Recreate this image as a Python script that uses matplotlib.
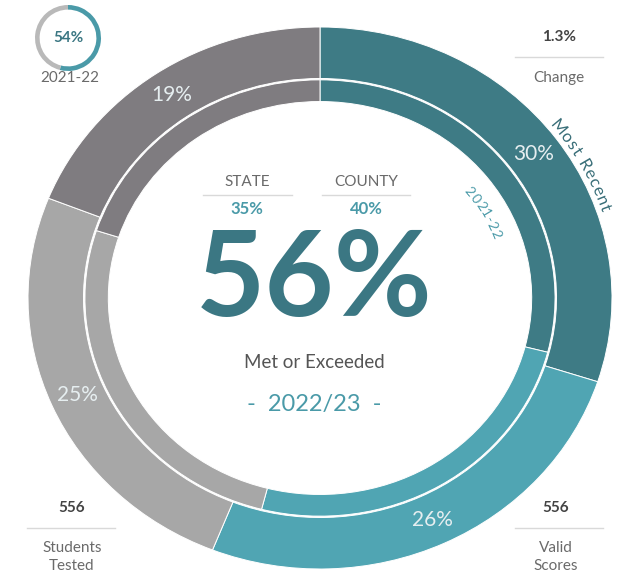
import numpy as np
import matplotlib
matplotlib.use("Agg")
import matplotlib.pyplot as plt
import matplotlib.patheffects as pe
from matplotlib.textpath import TextPath
from matplotlib.font_manager import FontProperties

plt.rcParams['font.family'] = ['Lato', 'DejaVu Sans']

# data
segments = ['Met (dark)', 'Met (light)', 'Not met (light)', 'Not met (dark)']
recent = [30, 26, 25, 19]          # 2022/23 ring
previous = [29, 25, 26, 20]        # 2021-22 ring
colors = ['#3e7b85', '#50a5b3', '#a7a7a7', '#7f7c80']
met_total = 56
prev_total = 54
state_pct, county_pct = 35, 40
change = '1.3%'
students_tested = 556
valid_scores = 556

TEAL = '#3b7783'
LIGHT_TEAL = '#4a9aa8'
DARK_TXT = '#444444'
MID_TXT = '#6a6a6a'
RULE = '#d9d9d9'

W, H = 625, 578
fig = plt.figure(figsize=(W / 100, H / 100), dpi=100)


def frac_box(cx, cy, rx, ry):
    # pixel centre/radii -> figure fraction rect
    return [(cx - rx) / W, (H - cy - ry) / H, 2 * rx / W, 2 * ry / H]


# main donut (slightly wider than tall, like the source image)
dax = fig.add_axes(frac_box(320, 298, 292, 271))
dax.pie(recent, radius=1.0, colors=colors, startangle=90, counterclock=False,
        wedgeprops=dict(width=0.19, edgecolor='white', linewidth=0.7),
        autopct=lambda p: f'{p:.0f}%', pctdistance=0.905,
        textprops=dict(color='#e6eef0', fontsize=15))
dax.pie(previous, radius=0.805, colors=colors, startangle=90, counterclock=False,
        wedgeprops=dict(width=0.08, edgecolor='white', linewidth=0.7))
dax.set_aspect('auto')
dax.set_xlim(-1, 1)
dax.set_ylim(-1, 1)
dax.axis('off')


def arc_text(ax, s, r, mid_deg, size, color, spread=1.0, stroke=False):
    fp = FontProperties(family='Lato', size=size)
    px = 100 / 72
    widths = []
    for ch in s:
        if ch == ' ':
            widths.append(size * 0.3 * px)
        else:
            widths.append((TextPath((0, 0), ch, prop=fp).get_extents().width + size * 0.12) * px)
    widths = np.array(widths) * spread
    R = 282 * r
    dth = np.degrees(widths / R)
    start = mid_deg + dth.sum() / 2
    cum = 0
    for ch, d in zip(s, dth):
        t = np.radians(start - cum - d / 2)
        cum += d
        rot = np.degrees(np.arctan2(-271 * np.cos(t), 292 * np.sin(t)))
        txt = ax.text(r * np.cos(t), r * np.sin(t), ch, fontsize=size, color=color,
                      rotation=rot, rotation_mode='anchor', ha='center', va='center')
        if stroke:
            txt.set_path_effects([pe.withStroke(linewidth=2.5, foreground='white')])


arc_text(dax, 'Most Recent', 1.035, 28.5, 12, '#3a6f79', spread=1.08, stroke=True)
arc_text(dax, '2021-22', 0.645, 29.5, 10, LIGHT_TEAL, spread=1.1)

# small previous-year donut, top left
sax = fig.add_axes(frac_box(68, 38, 33, 33))
sax.pie([prev_total, 100 - prev_total], radius=1.0, colors=[LIGHT_TEAL, '#b9b9b9'],
        startangle=90, counterclock=False, wedgeprops=dict(width=0.14, linewidth=0))
sax.set_aspect('auto')
sax.set_xlim(-1, 1)
sax.set_ylim(-1, 1)
sax.axis('off')
sax.text(0, 0, f'{prev_total}%', ha='center', va='center', fontsize=11,
         fontweight='bold', color=TEAL)

# overlay in pixel coordinates for the annotations
ax = fig.add_axes([0, 0, 1, 1])
ax.set_xlim(0, W)
ax.set_ylim(H, 0)
ax.axis('off')
ax.patch.set_visible(False)

ax.text(70, 78, '2021-22', ha='center', va='center', fontsize=11, color=MID_TXT)

# centre block
ax.text(247, 182, 'STATE', ha='center', va='center', fontsize=11, color=MID_TXT)
ax.plot([203, 292], [195, 195], color=RULE, lw=1)
ax.text(247, 209, f'{state_pct}%', ha='center', va='center', fontsize=12,
        fontweight='bold', color=LIGHT_TEAL)
ax.text(366, 182, 'COUNTY', ha='center', va='center', fontsize=11, color=MID_TXT)
ax.plot([322, 410], [195, 195], color=RULE, lw=1)
ax.text(366, 209, f'{county_pct}%', ha='center', va='center', fontsize=12,
        fontweight='bold', color=LIGHT_TEAL)

ax.text(314, 282, f'{met_total}%', ha='center', va='center', fontsize=86,
        fontweight='bold', color=TEAL)
ax.text(314, 362, 'Met or Exceeded', ha='center', va='center', fontsize=13.5, color='#555555')
ax.text(314, 404, '-  2022/23  -', ha='center', va='center', fontsize=17, color=LIGHT_TEAL)

# corner stats
def corner(x, y, value, label, x0, x1, label_y=None):
    ax.text(x, y, value, ha='center', va='center', fontsize=11, fontweight='bold', color=DARK_TXT)
    ax.plot([x0, x1], [y + 20, y + 20], color=RULE, lw=1)
    ax.text(x, label_y if label_y else y + 49, label, ha='center', va='center', fontsize=11,
            color=MID_TXT, linespacing=1.35)

corner(559, 37, change, 'Change', 515, 603, label_y=78)
corner(72, 508, str(students_tested), 'Students\nTested', 27, 115)
corner(556, 508, str(valid_scores), 'Valid\nScores', 515, 603)

fig.savefig('out.png', dpi=100)
